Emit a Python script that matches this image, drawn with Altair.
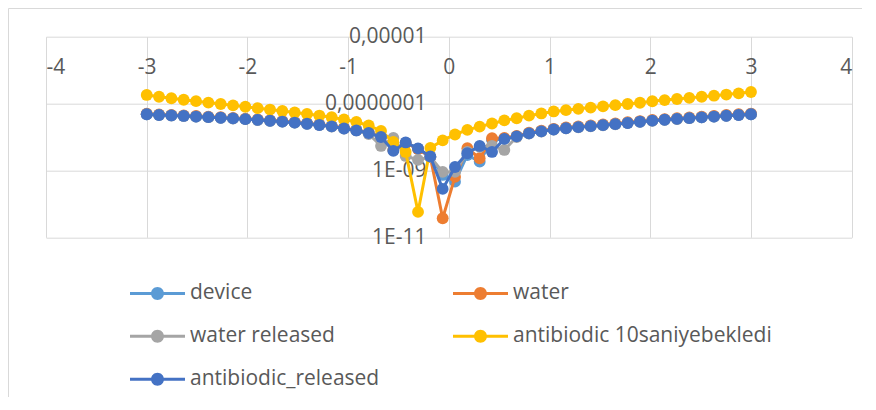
import altair as alt
import pandas as pd

# ---- data ----
x_values = [-3.0, -2.8776, -2.7551, -2.6327, -2.5102, -2.3878, -2.2653, -2.1429, -2.0204, -1.898,
            -1.7755, -1.6531, -1.5306, -1.4082, -1.2857, -1.1633, -1.0408, -0.9184, -0.7959, -0.6735,
            -0.551, -0.4286, -0.3061, -0.1837, -0.0612, 0.0612, 0.1837, 0.3061, 0.4286, 0.551,
            0.6735, 0.7959, 0.9184, 1.0408, 1.1633, 1.2857, 1.4082, 1.5306, 1.6531, 1.7755,
            1.898, 2.0204, 2.1429, 2.2653, 2.3878, 2.5102, 2.6327, 2.7551, 2.8776, 3.0]

device = [4.80e-8, 4.58e-8, 4.42e-8, 4.27e-8, 4.10e-8, 3.93e-8, 3.77e-8, 3.60e-8, 3.43e-8, 3.25e-8,
          3.07e-8, 2.89e-8, 2.70e-8, 2.50e-8, 2.30e-8, 2.08e-8, 1.81e-8, 1.58e-8, 1.33e-8, 1.00e-8,
          4.10e-9, 6.64e-9, 4.39e-9, 2.53e-9, 7.33e-10, 4.62e-10, 2.90e-9, 1.83e-9, 8.17e-9, 8.75e-9,
          1.04e-8, 1.29e-8, 1.48e-8, 1.69e-8, 1.84e-8, 1.98e-8, 2.12e-8, 2.27e-8, 2.43e-8, 2.64e-8,
          2.87e-8, 3.09e-8, 3.29e-8, 3.48e-8, 3.67e-8, 3.88e-8, 4.10e-8, 4.33e-8, 4.57e-8, 4.80e-8]

water = [4.98e-8, 4.74e-8, 4.59e-8, 4.43e-8, 4.25e-8, 4.08e-8, 3.91e-8, 3.73e-8, 3.56e-8, 3.37e-8,
         3.18e-8, 3.00e-8, 2.80e-8, 2.59e-8, 2.38e-8, 2.15e-8, 1.87e-8, 1.63e-8, 1.37e-8, 1.02e-8,
         4.10e-9, 6.64e-9, 4.39e-9, 2.53e-9, 3.72e-11, 6.39e-10, 4.61e-9, 2.32e-9, 9.18e-9, 9.37e-9,
         1.08e-8, 1.34e-8, 1.54e-8, 1.76e-8, 1.92e-8, 2.07e-8, 2.22e-8, 2.37e-8, 2.54e-8, 2.76e-8,
         3.00e-8, 3.23e-8, 3.44e-8, 3.64e-8, 3.84e-8, 4.06e-8, 4.29e-8, 4.54e-8, 4.79e-8, 5.03e-8]

water_released = [4.78e-8, 4.55e-8, 4.40e-8, 4.25e-8, 4.08e-8, 3.91e-8, 3.75e-8, 3.58e-8, 3.41e-8, 3.23e-8,
                  3.05e-8, 2.87e-8, 2.68e-8, 2.48e-8, 2.28e-8, 2.06e-8, 1.79e-8, 1.57e-8, 1.23e-8, 5.40e-9,
                  9.37e-9, 2.71e-9, 2.06e-9, 2.53e-9, 9.02e-10, 9.02e-10, 3.57e-9, 5.05e-9, 5.40e-9, 4.10e-9,
                  1.00e-8, 1.27e-8, 1.46e-8, 1.67e-8, 1.82e-8, 1.96e-8, 2.10e-8, 2.25e-8, 2.41e-8, 2.62e-8,
                  2.85e-8, 3.07e-8, 3.27e-8, 3.46e-8, 3.65e-8, 3.86e-8, 4.08e-8, 4.31e-8, 4.55e-8, 4.78e-8]

antibiodic_10s = [1.81e-7, 1.60e-7, 1.44e-7, 1.30e-7, 1.18e-7, 1.07e-7, 9.72e-8, 8.83e-8, 8.02e-8, 7.28e-8,
                  6.62e-8, 6.01e-8, 5.42e-8, 4.89e-8, 4.38e-8, 3.89e-8, 3.35e-8, 2.82e-8, 2.21e-8, 1.52e-8,
                  7.11e-9, 3.57e-9, 5.74e-11, 4.71e-9, 7.89e-9, 1.19e-8, 1.63e-8, 2.04e-8, 2.54e-8, 3.13e-8,
                  3.64e-8, 4.35e-8, 5.06e-8, 5.81e-8, 6.35e-8, 6.95e-8, 7.59e-8, 8.24e-8, 8.95e-8, 9.72e-8,
                  1.06e-7, 1.17e-7, 1.27e-7, 1.37e-7, 1.48e-7, 1.60e-7, 1.72e-7, 1.86e-7, 2.02e-7, 2.22e-7]

antibiodic_released = [4.79e-8, 4.56e-8, 4.41e-8, 4.26e-8, 4.09e-8, 3.92e-8, 3.76e-8, 3.59e-8, 3.42e-8, 3.24e-8,
                       3.06e-8, 2.88e-8, 2.69e-8, 2.49e-8, 2.29e-8, 2.07e-8, 1.80e-8, 1.57e-8, 1.32e-8, 1.00e-8,
                       3.83e-9, 6.87e-9, 4.55e-9, 2.62e-9, 2.80e-10, 1.27e-9, 3.27e-9, 5.40e-9, 3.57e-9, 8.75e-9,
                       1.04e-8, 1.28e-8, 1.47e-8, 1.68e-8, 1.83e-8, 1.97e-8, 2.11e-8, 2.26e-8, 2.42e-8, 2.63e-8,
                       2.86e-8, 3.08e-8, 3.28e-8, 3.47e-8, 3.66e-8, 3.87e-8, 4.09e-8, 4.32e-8, 4.56e-8, 4.79e-8]

series_names = ["device", "water", "water released", "antibiodic 10saniyebekledi", "antibiodic_released"]
series_colors = ["#5B9BD5", "#ED7D31", "#A5A5A5", "#FFC000", "#4472C4"]
series_values = [device, water, water_released, antibiodic_10s, antibiodic_released]

x_ticks = [-4, -3, -2, -1, 0, 1, 2, 3, 4]
y_tick_values = [1e-11, 1e-9, 1e-7, 1e-5]
y_tick_labels = ["1E-11", "1E-09", "0,0000001", "0,00001"]

# ---- build table ----
rows = []
for name, vals in zip(series_names, series_values):
    for i, (xv, yv) in enumerate(zip(x_values, vals)):
        rows.append({"series": name, "x": xv, "y": yv, "idx": i})
df = pd.DataFrame(rows)

y_expr = "''"
for v, lab in zip(y_tick_values, y_tick_labels):
    y_expr = f"datum.value > {v * 0.5} ? '{lab}' : ({y_expr})"

FONT = "Open Sans"
FS = 21
TXT = "#595959"
GRID = "#d9d9d9"
W, H = 805.7, 200.6

x_axis = alt.Axis(values=x_ticks, orient="top", grid=True, gridColor=GRID, gridWidth=1,
                  domain=False, ticks=False, tickSize=0, labelPadding=-31, labelBaseline="middle",
                  labelExpr="'' + datum.value", labelFont=FONT, labelFontSize=FS, labelColor=TXT,
                  labelOverlap=False, title=None)
y_axis = alt.Axis(values=y_tick_values, orient="left", grid=True, gridColor=GRID, gridWidth=1,
                  domain=False, ticks=False, tickSize=0, labelPadding=-380, labelAlign="right",
                  labelBaseline="middle", labelExpr=y_expr, labelFont=FONT, labelFontSize=FS,
                  labelColor=TXT, labelOverlap=False, title=None)

xs = alt.Scale(domain=[-4, 4], nice=False, zero=False)
ys = alt.Scale(type="log", domain=[1e-11, 1e-5], nice=False)
cs = alt.Scale(domain=series_names, range=series_colors)

sym = ("M-1,-0.055L-0.2,-0.055L-0.2,0.055L-1,0.055Z "
       "M0.2,-0.055L1,-0.055L1,0.055L0.2,0.055Z "
       "M0.236,0A0.236,0.236 0 1,1 -0.236,0A0.236,0.236 0 1,1 0.236,0Z")

legend = alt.Legend(title=None, orient="none", legendX=84, legendY=229, columns=2,
                    direction="horizontal", columnPadding=73, rowPadding=5, padding=0,
                    symbolType=sym, symbolSize=3025, symbolStrokeWidth=0, symbolOffset=0,
                    labelOffset=5, labelFont=FONT, labelFontSize=FS, labelColor=TXT, labelLimit=400)

color = alt.Color("series:N", scale=cs, legend=legend)
enc = dict(x=alt.X("x:Q", scale=xs, axis=x_axis), y=alt.Y("y:Q", scale=ys, axis=y_axis), color=color)

base = alt.Chart(df)
layers = []
# outer chart-area frame
frame = alt.Chart(pd.DataFrame({"a": [0]})).mark_rect(
    fillOpacity=0, stroke=GRID, strokeWidth=1
).encode(x=alt.value(-37.5), x2=alt.value(W + 200), y=alt.value(-28.2), y2=alt.value(H + 300))
layers.append(frame)

for k, name in enumerate(series_names):
    sub = base.transform_filter(alt.datum.series == name)
    line = sub.mark_line(strokeWidth=3).encode(order="idx:Q", **enc)
    pts = sub.mark_point(filled=True, size=140, opacity=1, strokeWidth=0, shape="circle").encode(**enc)
    if k == 0:
        layers += [pts, line]   # first colour layer is a filled point: legend symbols are filled
    else:
        layers += [line, pts]

chart = alt.layer(*layers).properties(
    width=W, height=H,
    padding={"left": 38, "top": 28.7, "right": 10, "bottom": 160},
    autosize=alt.AutoSizeParams(type="none"),
    background="white",
).configure_view(stroke=None)

chart.save("out.html", embed_options={"renderer": "svg", "actions": False})
